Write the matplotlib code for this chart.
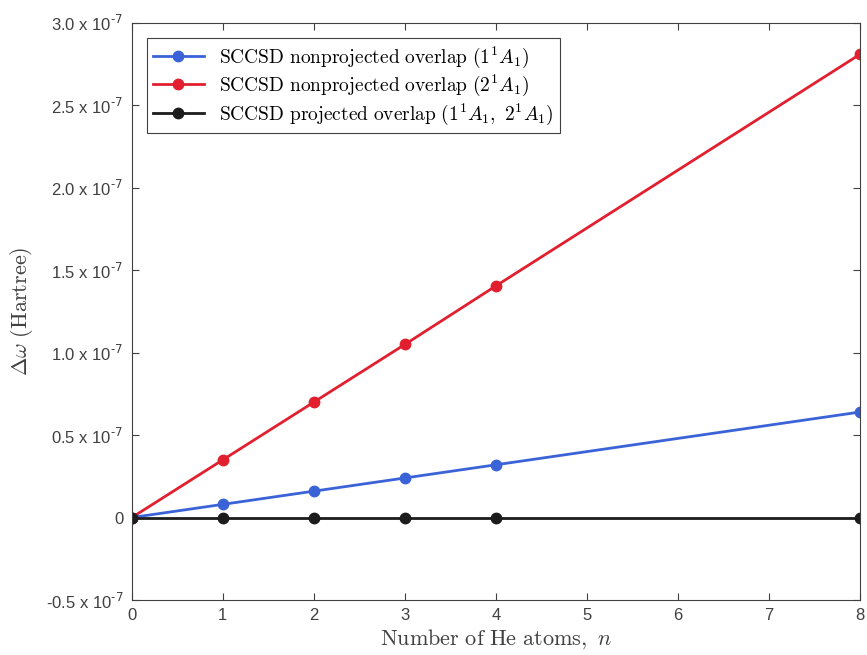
import numpy as np
import matplotlib
matplotlib.use('Agg')
from matplotlib import pyplot as plt

plt.rcParams['mathtext.fontset'] = 'cm'
plt.rcParams['font.family'] = ['Liberation Sans', 'DejaVu Sans']

n_atoms = [0, 1, 2, 3, 4, 8]
# values in units of 1e-7 Hartree
nonproj_1A1 = [0.0, 0.08, 0.16, 0.24, 0.32, 0.64]
nonproj_2A1 = [0.0, 0.35, 0.70, 1.05, 1.405, 2.81]
proj_both = [0.0, 0.0, 0.0, 0.0, 0.0, 0.0]

labels = [r'$\mathrm{SCCSD\ nonprojected\ overlap\ (1^1}A_1\mathrm{)}$',
          r'$\mathrm{SCCSD\ nonprojected\ overlap\ (2^1}A_1\mathrm{)}$',
          r'$\mathrm{SCCSD\ projected\ overlap\ (1^1}A_1\mathrm{,\ 2^1}A_1\mathrm{)}$']
colors = ['#3b63d8', '#e21f2f', '#1c1c1c']

yticks = [-0.5, 0, 0.5, 1.0, 1.5, 2.0, 2.5, 3.0]
xticks = [0, 1, 2, 3, 4, 5, 6, 7, 8]

axcol = '#404040'

fig = plt.figure(figsize=(8.67, 6.55), dpi=100)
ax = fig.add_axes([0.152, 0.084, 0.84, 0.881])

series = [nonproj_1A1, nonproj_2A1, proj_both]
for vals, lab, col in zip(series, labels, colors):
    ax.plot(n_atoms, np.array(vals), '-o', color=col, lw=2, ms=7.5, label=lab)

ax.set_xlim(0, 8)
ax.set_ylim(-0.5, 3.0)
ax.set_xticks(xticks)
ax.set_yticks(yticks)
ylabs = []
for v in yticks:
    if v == 0:
        ylabs.append('0')
    else:
        ylabs.append(r'%.1f x 10$^{\text{-}7}$' % v)
ax.set_yticklabels(ylabs)
for t in ax.get_yticklabels():
    t.set_math_fontfamily('dejavusans')

ax.tick_params(direction='in', top=True, right=True, length=5, width=0.8,
               colors=axcol, labelsize=12, pad=6)
for s in ax.spines.values():
    s.set_color(axcol)
    s.set_linewidth(0.8)

ax.set_xlabel(r'$\mathrm{Number\ of\ He\ atoms,}\ n$', fontsize=16, color=axcol, labelpad=3)
ax.set_ylabel(r'$\Delta\omega\ \mathrm{(Hartree)}$', fontsize=16, color=axcol, labelpad=8)

leg = ax.legend(loc='upper left', fontsize=14, fancybox=False, framealpha=1,
                edgecolor=axcol, borderpad=0.3, labelspacing=0.15,
                handlelength=2.6, borderaxespad=0.8)
leg.get_frame().set_linewidth(0.8)

fig.savefig('out.png', dpi=100)
